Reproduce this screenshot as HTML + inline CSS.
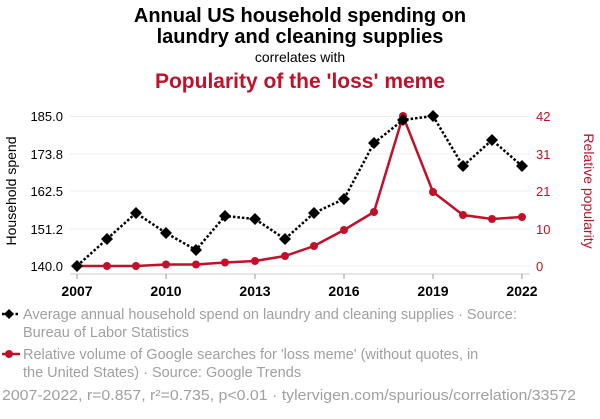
<!DOCTYPE html>
<html><head><meta charset="utf-8"><style>
body{margin:0;background:#fff;width:600px;height:414px;overflow:hidden;font-family:"Liberation Sans",sans-serif}
</style></head><body>
<svg width="600" height="414" xmlns="http://www.w3.org/2000/svg" font-family="Liberation Sans, sans-serif">
<text x="300" y="22" text-anchor="middle" font-size="20" font-weight="bold" fill="#000">Annual US household spending on</text>
<text x="300" y="43" text-anchor="middle" font-size="20" font-weight="bold" fill="#000">laundry and cleaning supplies</text>
<text x="300" y="62" text-anchor="middle" font-size="14" fill="#000">correlates with</text>
<text x="300" y="88" text-anchor="middle" font-size="21" font-weight="bold" fill="#c0102a">Popularity of the 'loss' meme</text>
<g stroke="#eee" stroke-width="1">
<line x1="70" x2="530" y1="116.5" y2="116.5"/><line x1="70" x2="530" y1="154" y2="154"/><line x1="70" x2="530" y1="191" y2="191"/><line x1="70" x2="530" y1="229" y2="229"/><line x1="70" x2="530" y1="266" y2="266"/>
</g>
<line x1="70" x2="530" y1="274" y2="274" stroke="#ccc"/>
<g stroke="#999"><line x1="77" x2="77" y1="274" y2="279"/><line x1="166" x2="166" y1="274" y2="279"/><line x1="255" x2="255" y1="274" y2="279"/><line x1="344" x2="344" y1="274" y2="279"/><line x1="433" x2="433" y1="274" y2="279"/><line x1="522" x2="522" y1="274" y2="279"/></g>
<g font-size="13" text-anchor="end" fill="#000">
<text x="63" y="121">185.0</text><text x="63" y="159">173.8</text><text x="63" y="196">162.5</text><text x="63" y="234">151.2</text><text x="63" y="271">140.0</text></g>
<g font-size="13" text-anchor="start" fill="#c0102a">
<text x="536" y="121">42</text><text x="536" y="159">31</text><text x="536" y="196">21</text><text x="536" y="234">10</text><text x="536" y="271">0</text></g>
<g font-size="14" font-weight="bold" text-anchor="middle" fill="#000">
<text x="77" y="296">2007</text><text x="166" y="296">2010</text><text x="255" y="296">2013</text><text x="344" y="296">2016</text><text x="433" y="296">2019</text><text x="522" y="296">2022</text></g>
<text transform="translate(16,191) rotate(-90)" text-anchor="middle" font-size="14" fill="#000">Household spend</text>
<text transform="translate(584,191) rotate(90)" text-anchor="middle" font-size="14" fill="#c0102a">Relative popularity</text>
<polyline fill="none" stroke="#c0102a" stroke-width="2.5" points="77,266 107,266 136,266 166,264.5 196,264.5 225,262.5 255,261 285,256 314,246 344,230 374,212 403,116 433,192 463,215 492,219 522,217"/>
<g fill="#c0102a"><circle cx="77" cy="266" r="4"/><circle cx="107" cy="266" r="4"/><circle cx="136" cy="266" r="4"/><circle cx="166" cy="264.5" r="4"/><circle cx="196" cy="264.5" r="4"/><circle cx="225" cy="262.5" r="4"/><circle cx="255" cy="261" r="4"/><circle cx="285" cy="256" r="4"/><circle cx="314" cy="246" r="4"/><circle cx="344" cy="230" r="4"/><circle cx="374" cy="212" r="4"/><circle cx="403" cy="116" r="4"/><circle cx="433" cy="192" r="4"/><circle cx="463" cy="215" r="4"/><circle cx="492" cy="219" r="4"/><circle cx="522" cy="217" r="4"/></g>
<polyline fill="none" stroke="#000" stroke-width="2.5" stroke-dasharray="2.5,2" points="77,266 107,239 136,213 166,233 196,250 225,216 255,219 285,239 314,213 344,199 374,143 403,120 433,116 463,166 492,140 522,166"/>
<g fill="#000">
<path d="M77,260l6,6l-6,6l-6,-6z"/><path d="M107,233l6,6l-6,6l-6,-6z"/><path d="M136,207l6,6l-6,6l-6,-6z"/><path d="M166,227l6,6l-6,6l-6,-6z"/><path d="M196,244l6,6l-6,6l-6,-6z"/><path d="M225,210l6,6l-6,6l-6,-6z"/><path d="M255,213l6,6l-6,6l-6,-6z"/><path d="M285,233l6,6l-6,6l-6,-6z"/><path d="M314,207l6,6l-6,6l-6,-6z"/><path d="M344,193l6,6l-6,6l-6,-6z"/><path d="M374,137l6,6l-6,6l-6,-6z"/><path d="M403,114l6,6l-6,6l-6,-6z"/><path d="M433,110l6,6l-6,6l-6,-6z"/><path d="M463,160l6,6l-6,6l-6,-6z"/><path d="M492,134l6,6l-6,6l-6,-6z"/><path d="M522,160l6,6l-6,6l-6,-6z"/></g>
<line x1="2" x2="20" y1="314" y2="314" stroke="#000" stroke-width="2.5" stroke-dasharray="2.5,2"/>
<path d="M9,309l5,5l-5,5l-5,-5z" fill="#000"/>
<line x1="2" x2="20" y1="354" y2="354" stroke="#c0102a" stroke-width="2.5"/>
<circle cx="9" cy="354" r="4" fill="#c0102a"/>
<g font-size="14.5" fill="#a0a0a0">
<text x="23" y="319">Average annual household spend on laundry and cleaning supplies · Source:</text>
<text x="23" y="337">Bureau of Labor Statistics</text>
<text x="23" y="359">Relative volume of Google searches for 'loss meme' (without quotes, in</text>
<text x="23" y="377">the United States) · Source: Google Trends</text>
</g>
<text x="2" y="400" font-size="14.5" fill="#a0a0a0" textLength="574" lengthAdjust="spacingAndGlyphs">2007-2022, r=0.857, r²=0.735, p&lt;0.01 · tylervigen.com/spurious/correlation/33572</text>
</svg>
</body></html>
